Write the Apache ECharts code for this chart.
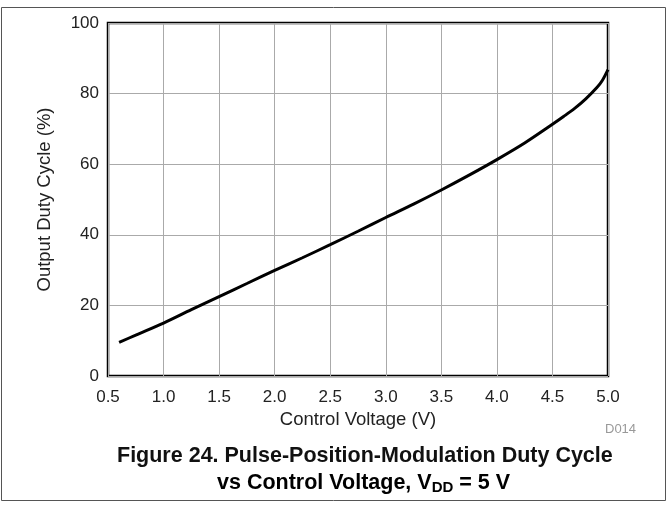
<!DOCTYPE html>
<html>
<head>
<meta charset="utf-8">
<script src="https://cdn.jsdelivr.net/npm/echarts@6/dist/echarts.min.js"></script>
<style>html,body{margin:0;padding:0;background:#fff;}#c{width:672px;height:505px;}</style>
</head>
<body>
<div id="c"></div>
<script>
const controlVoltage = [0.6, 0.75, 1.0, 1.25, 1.5, 1.75, 2.0, 2.25, 2.5, 2.75, 3.0, 3.25, 3.5, 3.75, 4.0, 4.25, 4.5, 4.6, 4.7, 4.8, 4.9, 4.95, 5.0];
const dutyCycle = [9.5, 11.6, 15.0, 18.8, 22.5, 26.2, 29.9, 33.5, 37.2, 41.0, 44.9, 48.7, 52.7, 56.9, 61.3, 66.0, 71.3, 73.5, 75.8, 78.5, 81.7, 83.8, 86.8];
const xTicks = [0.5, 1.0, 1.5, 2.0, 2.5, 3.0, 3.5, 4.0, 4.5, 5.0];
const yTicks = [0, 20, 40, 60, 80, 100];

const chart = echarts.init(document.getElementById('c'));
const font = 'Arial, "Liberation Sans", sans-serif';
chart.setOption({
  animation: false,
  backgroundColor: '#fff',
  grid: { left: 108, right: 64, top: 23, bottom: 129, show: true, borderColor: '#000', borderWidth: 2.5, containLabel: false },
  xAxis: {
    type: 'value', min: 0.5, max: 5.0, interval: 0.5,
    name: 'Control Voltage (V)', nameLocation: 'middle', nameGap: 32,
    nameTextStyle: { fontFamily: font, fontSize: 18.5, color: '#222' },
    axisLine: { show: false }, axisTick: { show: false },
    axisLabel: { fontFamily: font, fontSize: 17, color: '#222', margin: 13, formatter: v => v.toFixed(1) },
    splitLine: { show: true, lineStyle: { color: '#aaa', width: 1 } }
  },
  yAxis: {
    type: 'value', min: 0, max: 100, interval: 20,
    name: 'Output Duty Cycle (%)', nameLocation: 'middle', nameGap: 54, nameRotate: 90,
    nameTextStyle: { fontFamily: font, fontSize: 18.5, color: '#222' },
    axisLine: { show: false }, axisTick: { show: false },
    axisLabel: { fontFamily: font, fontSize: 17, color: '#222', margin: 9 },
    splitLine: { show: true, lineStyle: { color: '#aaa', width: 1 } }
  },
  series: [{
    type: 'line', smooth: 0.3, symbol: 'none',
    data: controlVoltage.map((x, i) => [x, dutyCycle[i]]),
    lineStyle: { color: '#000', width: 3 }
  }],
  graphic: [
    { type: 'rect', shape: { x: 1.5, y: 7.5, width: 664, height: 493 }, style: { fill: 'none', stroke: '#555', lineWidth: 1 }, silent: true },
    { type: 'text', left: 605, top: 423, style: { text: 'D014', fontFamily: font, fontSize: 13, fill: '#999' } },
    { type: 'text', left: 117, top: 445, style: { text: 'Figure 24. Pulse-Position-Modulation Duty Cycle', fontFamily: font, fontSize: 21.5, fontWeight: 'bold', fill: '#111' } },
    { type: 'text', left: 217, top: 472, style: {
        text: '{n|vs Control Voltage, V}{s|DD}{n| = 5 V}',
        rich: {
          n: { fontFamily: font, fontSize: 21.5, fontWeight: 'bold', color: '#111' },
          s: { fontFamily: font, fontSize: 15, fontWeight: 'bold', color: '#111', padding: [9, 0, 0, 0] }
        } } }
  ]
});
</script>
</body>
</html>
